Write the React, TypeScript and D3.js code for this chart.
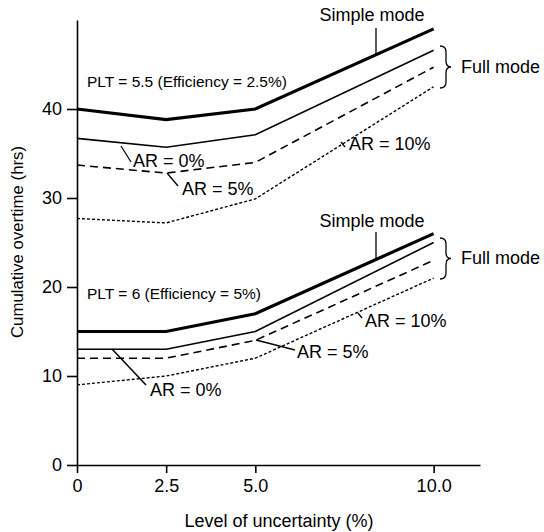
import React, { useEffect, useRef } from "react";
import * as d3 from "d3";

const uncertainty = [0, 2.5, 5, 10];
const xTickValues = [0, 2.5, 5, 10];
const xTickLabels = ["0", "2.5", "5.0", "10.0"];
const yTickValues = [0, 10, 20, 30, 40];

// PLT = 5.5
const simple55 = [40, 38.8, 40, 49];
const ar0_55 = [36.7, 35.7, 37.1, 46.6];
const ar5_55 = [33.7, 32.8, 34, 44.7];
const ar10_55 = [27.7, 27.2, 29.9, 42.5];
// PLT = 6
const simple6 = [15, 15, 17, 26];
const ar0_6 = [13, 13, 15, 25];
const ar5_6 = [12, 12, 14, 23];
const ar10_6 = [9, 10, 12, 21];

const W = 544;
const H = 532;
const FONT = "'Liberation Sans', Arial, Helvetica, sans-serif";

const x = d3.scaleLinear().domain([0, 11.3]).range([77, 480]);
const y = d3.scaleLinear().domain([0, 50]).range([465, 20]);

const line = d3
  .line<number>()
  .x((_, i) => x(uncertainty[i]))
  .y((d) => y(d));

type Style = { w: number; dash?: string };
const styles: Record<string, Style> = {
  simple: { w: 3.2 },
  ar0: { w: 1.6 },
  ar5: { w: 1.6, dash: "8,5" },
  ar10: { w: 1.4, dash: "3,2" },
};

const series: { data: number[]; s: Style }[] = [
  { data: simple55, s: styles.simple },
  { data: ar0_55, s: styles.ar0 },
  { data: ar5_55, s: styles.ar5 },
  { data: ar10_55, s: styles.ar10 },
  { data: simple6, s: styles.simple },
  { data: ar0_6, s: styles.ar0 },
  { data: ar5_6, s: styles.ar5 },
  { data: ar10_6, s: styles.ar10 },
];

function brace(x0: number, y0: number, y1: number) {
  const m = (y0 + y1) / 2;
  const xm = x0 + 6;
  const xt = x0 + 11;
  return `M${x0},${y0} Q${xm},${y0} ${xm},${y0 + 6} L${xm},${m - 6} Q${xm},${m} ${xt},${m} Q${xm},${m} ${xm},${m + 6} L${xm},${y1 - 6} Q${xm},${y1} ${x0},${y1}`;
}

export default function App() {
  const gx = useRef<SVGGElement>(null);
  const gy = useRef<SVGGElement>(null);

  useEffect(() => {
    const ax = d3
      .axisBottom(x)
      .tickValues(xTickValues)
      .tickFormat((_, i) => xTickLabels[i])
      .tickSize(8)
      .tickSizeOuter(0)
      .tickPadding(6);
    const sx = d3.select(gx.current!);
    sx.call(ax as any);
    sx.attr("font-family", FONT).attr("font-size", 18);
    sx.selectAll("path,line").attr("stroke", "#000").attr("stroke-width", 1.6);
    sx.selectAll("text").attr("fill", "#000");

    const ay = d3
      .axisLeft(y)
      .tickValues(yTickValues)
      .tickSize(10)
      .tickSizeOuter(0)
      .tickPadding(5)
      .tickFormat(d3.format("d"));
    const sy = d3.select(gy.current!);
    sy.call(ay as any);
    sy.attr("font-family", FONT).attr("font-size", 18);
    sy.selectAll("path,line").attr("stroke", "#000").attr("stroke-width", 1.6);
    sy.selectAll("text").attr("fill", "#000");
  }, []);

  const t = { fontFamily: FONT, fill: "#000" } as const;

  return (
    <svg width={W} height={H} style={{ position: "absolute", left: 0, top: 0, background: "#fff" }}>
      <rect width={W} height={H} fill="#fff" />
      {series.map((s, i) => (
        <path
          key={i}
          d={line(s.data) || ""}
          fill="none"
          stroke="#000"
          strokeWidth={s.s.w}
          strokeDasharray={s.s.dash}
        />
      ))}
      <g ref={gx} transform={`translate(0,${y(0)})`} />
      <g ref={gy} transform={`translate(${x(0)},0)`} />

      {/* axis titles */}
      <text x={279} y={527} textAnchor="middle" fontSize={18} {...t}>
        Level of uncertainty (%)
      </text>
      <text transform="translate(23,242) rotate(-90)" textAnchor="middle" fontSize={16.8} {...t}>
        Cumulative overtime (hrs)
      </text>

      {/* PLT labels */}
      <text x={87} y={87} fontSize={15.5} {...t}>PLT = 5.5 (Efficiency = 2.5%)</text>
      <text x={87} y={299} fontSize={15.5} {...t}>PLT = 6 (Efficiency = 5%)</text>

      {/* Simple mode */}
      <text x={372} y={21} textAnchor="middle" fontSize={18} {...t}>Simple mode</text>
      <line x1={376} y1={28} x2={376} y2={54} stroke="#000" strokeWidth={1.3} />
      <text x={372} y={227} textAnchor="middle" fontSize={18} {...t}>Simple mode</text>
      <line x1={376} y1={232} x2={376} y2={258} stroke="#000" strokeWidth={1.3} />

      {/* Full mode braces */}
      <path d={brace(440, 46, 88)} fill="none" stroke="#000" strokeWidth={1.3} />
      <text x={461} y={73} fontSize={18} {...t}>Full mode</text>
      <path d={brace(440, 238, 279)} fill="none" stroke="#000" strokeWidth={1.3} />
      <text x={461} y={264} fontSize={18} {...t}>Full mode</text>

      {/* AR labels top */}
      <line x1={121} y1={146} x2={131} y2={162} stroke="#000" strokeWidth={1.3} />
      <text x={133} y={167} fontSize={18} {...t}>AR = 0%</text>
      <line x1={167} y1={173} x2={178} y2={186} stroke="#000" strokeWidth={1.3} />
      <text x={182} y={195} fontSize={18} {...t}>AR = 5%</text>
      <line x1={341} y1={142} x2={345} y2={147} stroke="#000" strokeWidth={1.3} />
      <text x={349} y={150} fontSize={18} {...t}>AR = 10%</text>

      {/* AR labels bottom */}
      <line x1={112} y1={349} x2={146} y2={385} stroke="#000" strokeWidth={1.5} />
      <text x={150} y={396} fontSize={18} {...t}>AR = 0%</text>
      <line x1={256} y1={340} x2={295} y2={350} stroke="#000" strokeWidth={1.3} />
      <text x={297} y={358} fontSize={18} {...t}>AR = 5%</text>
      <line x1={358} y1={313} x2={362} y2={318} stroke="#000" strokeWidth={1.3} />
      <text x={365} y={327} fontSize={18} {...t}>AR = 10%</text>
    </svg>
  );
}
